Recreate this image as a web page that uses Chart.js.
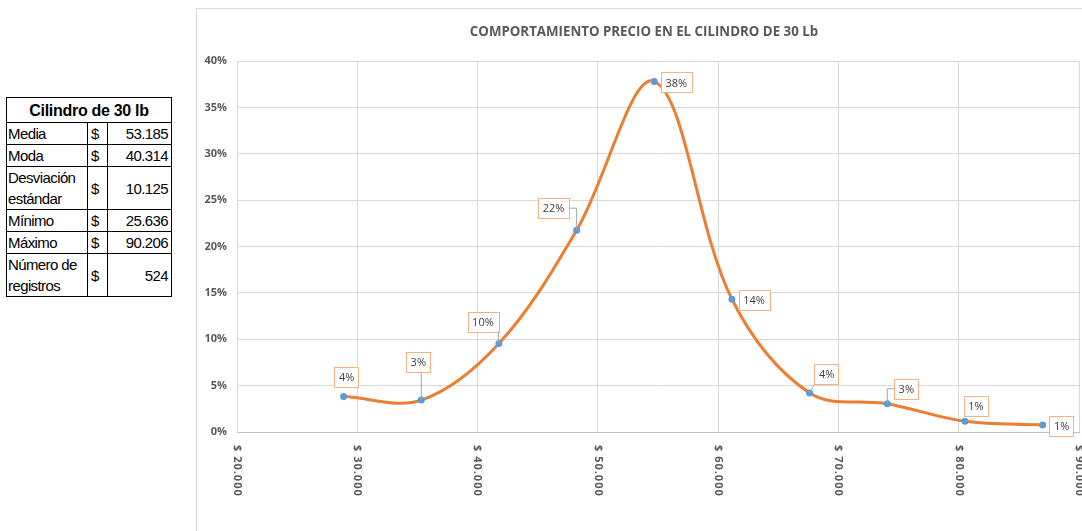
<!DOCTYPE html>
<html>
<head>
<meta charset="utf-8">
<script src="https://cdn.jsdelivr.net/npm/chart.js@4/dist/chart.umd.min.js"></script>
<style>
  html, body { margin: 0; padding: 0; background: #fff; width: 1082px; height: 531px; overflow: hidden; }
  #stats {
    position: absolute; left: 6px; top: 97px; width: 165px;
    border-collapse: collapse; table-layout: fixed;
    font-family: "Liberation Sans Narrow", "Liberation Sans", Arial, sans-serif;
    font-size: 15px; color: #000; letter-spacing: -0.6px;
  }
  #stats td, #stats th { border: 1px solid #000; padding: 0 1px; line-height: 21px; overflow: hidden; white-space: nowrap; }
  #stats th { font-size: 16px; height: 24px; text-align: center; letter-spacing: -0.3px; }
  #stats td.cur { text-align: left; padding-left: 3px; }
  #stats td.val { text-align: right; padding-right: 3px; }
  #frame { position: absolute; left: 196px; top: 8px; width: 900px; height: 540px; border: 1px solid #d9d9d9; box-sizing: border-box; }
  #chartBox { position: absolute; left: 196px; top: 8px; width: 896px; height: 530px; }
</style>
</head>
<body>
<table id="stats"><colgroup><col style="width:81px"><col style="width:20px"><col style="width:64px"></colgroup></table>
<div id="frame"></div>
<div id="chartBox"><canvas id="priceChart"></canvas></div>
<script>
// tabla resumen
const statTitle = 'Cilindro de 30 lb';
const statLabels = ['Media', 'Moda', 'Desviación<br>estándar', 'Mínimo', 'Máximo', 'Número de<br>registros'];
const statValues = ['53.185', '40.314', '10.125', '25.636', '90.206', '524'];

// curva de frecuencias (marca de clase, % de registros)
const chartTitle = 'COMPORTAMIENTO PRECIO EN EL CILINDRO DE 30 Lb';
const classMarks = [28864, 35321, 41778, 48235, 54692, 61149, 67606, 74063, 80520, 86977];
const frequencies = [0.0382, 0.0344, 0.0954, 0.2176, 0.3779, 0.1431, 0.0420, 0.0305, 0.0115, 0.0076];
const xTickValues = [20000, 30000, 40000, 50000, 60000, 70000, 80000, 90000];
const yTickValues = [0, 0.05, 0.10, 0.15, 0.20, 0.25, 0.30, 0.35, 0.40];

let html = document.getElementById('stats').innerHTML;
html += '<tr><th colspan="3">' + statTitle + '</th></tr>';
statLabels.forEach((l, i) => {
  html += '<tr><td class="lbl">' + l + '</td><td class="cur">$</td><td class="val">' + statValues[i] + '</td></tr>';
});
document.getElementById('stats').innerHTML = html;

const fmtMoney = v => '$ ' + String(v).replace(/\B(?=(\d{3})+(?!\d))/g, '.');

// posicion de cada etiqueta respecto a su punto (centro de la caja)
const labelOffsets = [[3, -20], [-3, -38], [-16, -22], [-23, -22], [22, 1], [22, 1], [17, -19], [19, -15], [11, -15], [19, 1]];
// guias en codo (caja a un lado, luego baja al punto)
const elbowLeaders = [false, false, false, true, false, false, false, true, false, false];

// titulo centrado en el marco completo del grafico
const titlePlugin = {
  id: 'frameTitle',
  afterDraw(chart) {
    const ctx = chart.ctx;
    ctx.save();
    ctx.font = 'bold 13.3px "Open Sans"';
    ctx.fillStyle = '#595959';
    ctx.textAlign = 'center';
    ctx.textBaseline = 'middle';
    ctx.fillText(chartTitle, 448, 24);
    ctx.restore();
  }
};

const xLabelsPlugin = {
  id: 'xLabels',
  afterDraw(chart) {
    const scale = chart.scales.x;
    const ctx = chart.ctx;
    ctx.save();
    ctx.font = 'bold 11px "Open Sans"';
    ctx.fillStyle = '#595959';
    ctx.textAlign = 'left';
    ctx.textBaseline = 'middle';
    if ('letterSpacing' in ctx) ctx.letterSpacing = '1px';
    scale.ticks.forEach(t => {
      const x = scale.getPixelForValue(t.value);
      ctx.save();
      ctx.translate(x, chart.chartArea.bottom + 13);
      ctx.rotate(Math.PI / 2);
      ctx.fillText(fmtMoney(t.value), 0, 0);
      ctx.restore();
    });
    ctx.restore();
  }
};

const dataLabelsPlugin = {
  id: 'boxLabels',
  afterDatasetsDraw(chart) {
    const ctx = chart.ctx;
    const meta = chart.getDatasetMeta(0);
    ctx.save();
    ctx.font = '11px "Open Sans"';
    ctx.textAlign = 'center';
    ctx.textBaseline = 'middle';
    meta.data.forEach((pt, i) => {
      const txt = Math.round(frequencies[i] * 100) + '%';
      const w = ctx.measureText(txt).width + 9;
      const h = 20;
      const cx = pt.x + labelOffsets[i][0];
      const cy = pt.y + labelOffsets[i][1];
      const bx = cx - w / 2, by = cy - h / 2;
      ctx.strokeStyle = '#a6a6a6';
      ctx.lineWidth = 1;
      if (elbowLeaders[i]) {
        const sx = pt.x < bx ? bx : bx + w;
        ctx.beginPath();
        ctx.moveTo(sx, cy);
        ctx.lineTo(pt.x, cy);
        ctx.lineTo(pt.x, pt.y);
        ctx.stroke();
      } else {
        // linea guia si la caja queda lejos del punto
        const nx = Math.max(bx, Math.min(pt.x, bx + w));
        const ny = Math.max(by, Math.min(pt.y, by + h));
        if (Math.hypot(nx - pt.x, ny - pt.y) > 10) {
          ctx.beginPath();
          ctx.moveTo(nx, ny);
          ctx.lineTo(pt.x, pt.y);
          ctx.stroke();
        }
      }
      ctx.fillStyle = '#fff';
      ctx.fillRect(bx, by, w, h);
      ctx.strokeStyle = '#f4b183';
      ctx.strokeRect(Math.round(bx) + 0.5, Math.round(by) + 0.5, Math.round(w), h);
      ctx.fillStyle = '#404040';
      ctx.fillText(txt, cx, cy + 1);
    });
    ctx.restore();
  }
};

new Chart(document.getElementById('priceChart'), {
  type: 'line',
  data: {
    datasets: [{
      data: classMarks.map((x, i) => ({ x, y: frequencies[i] })),
      borderColor: '#ed7d31',
      borderWidth: 3,
      tension: 0.35,
      pointRadius: 3.5,
      pointBackgroundColor: '#5b9bd5',
      pointBorderWidth: 0,
      fill: false
    }]
  },
  options: {
    responsive: true,
    maintainAspectRatio: false,
    animation: false,
    layout: { padding: { left: 0, right: 13, top: 53, bottom: 106 } },
    plugins: {
      legend: { display: false },
      tooltip: { enabled: false },
      title: { display: false }
    },
    scales: {
      x: {
        type: 'linear',
        min: 20000,
        max: 90000,
        afterBuildTicks: s => { s.ticks = xTickValues.map(v => ({ value: v })); },
        ticks: { display: false },
        grid: { color: '#d9d9d9', drawTicks: false },
        border: { color: '#bfbfbf' }
      },
      y: {
        min: 0,
        max: 0.4,
        afterBuildTicks: s => { s.ticks = yTickValues.map(v => ({ value: v })); },
        afterFit: s => { s.width = 41; },
        ticks: {
          padding: 10,
          color: '#595959',
          font: { family: 'Open Sans', size: 11, weight: 'bold' },
          callback: v => Math.round(v * 100) + '%'
        },
        grid: { color: '#d9d9d9', drawTicks: false },
        border: { color: '#d9d9d9' }
      }
    }
  },
  plugins: [titlePlugin, xLabelsPlugin, dataLabelsPlugin]
});
</script>
</body>
</html>
